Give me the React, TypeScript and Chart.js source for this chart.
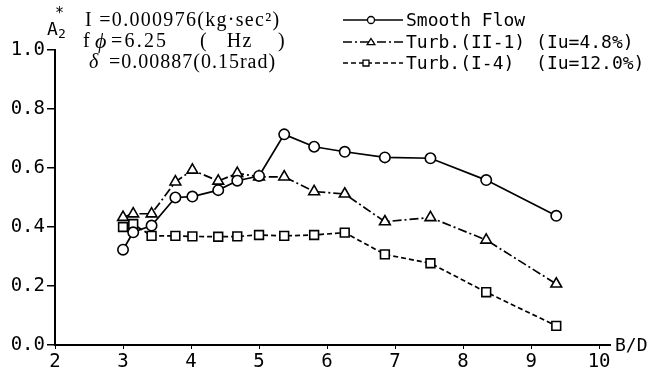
import React, { useEffect, useRef } from 'react';
import { Chart, registerables } from 'chart.js';

Chart.register(...registerables);

// B/D values (x) shared by all series
const bd = [3.0, 3.15, 3.42, 3.77, 4.02, 4.4, 4.68, 5.0, 5.37, 5.81, 6.26, 6.85, 7.52, 8.34, 9.37];
// A2* values
const smoothFlow = [0.323, 0.382, 0.405, 0.5, 0.503, 0.525, 0.557, 0.573, 0.714, 0.672, 0.655, 0.636, 0.633, 0.559, 0.438];
const turbII1 = [0.433, 0.445, 0.445, 0.553, 0.593, 0.556, 0.582, 0.57, 0.57, 0.52, 0.512, 0.418, 0.432, 0.356, 0.207];
const turbI4 = [0.4, 0.41, 0.37, 0.37, 0.368, 0.367, 0.368, 0.373, 0.37, 0.373, 0.381, 0.307, 0.277, 0.179, 0.065];

const seriesLabels = ['Smooth Flow', 'Turb.(II-1) (Iu=4.8%)', 'Turb.(I-4)  (Iu=12.0%)'];
const xTicks = [2, 3, 4, 5, 6, 7, 8, 9, 10];
const yTicks = [0.0, 0.2, 0.4, 0.6, 0.8, 1.0];
const annotationLine1 = 'I =0.000976(kg·sec²)';
const annotationLine2 = ['f', 'ϕ', '=6.25', '(   Hz    )'];
const annotationLine3 = ['δ', '=0.00887(0.15rad)'];
const xAxisTitle = 'B/D';

const MONO = "'DejaVu Sans Mono', monospace";
const SERIF = "'Liberation Serif', serif";

const styles = [
  { dash: [] as number[], marker: 'circle' },
  { dash: [9, 3, 2, 3], marker: 'triangle' },
  { dash: [5, 3], marker: 'rect' },
];

function drawMarker(ctx: CanvasRenderingContext2D, kind: string, x: number, y: number, r: number) {
  ctx.beginPath();
  if (kind === 'circle') {
    ctx.arc(x, y, r, 0, Math.PI * 2);
  } else if (kind === 'triangle') {
    ctx.moveTo(x, y - r);
    ctx.lineTo(x + r * 1.1, y + r * 0.75);
    ctx.lineTo(x - r * 1.1, y + r * 0.75);
    ctx.closePath();
  } else {
    ctx.rect(x - r * 0.85, y - r * 0.85, r * 1.7, r * 1.7);
  }
  ctx.fillStyle = '#fff';
  ctx.fill();
  ctx.setLineDash([]);
  ctx.lineWidth = 1.3;
  ctx.strokeStyle = '#000';
  ctx.stroke();
}

const decorPlugin = {
  id: 'decor',
  afterDraw(chart: any) {
    const ctx: CanvasRenderingContext2D = chart.ctx;
    const area = chart.chartArea;
    ctx.save();
    ctx.fillStyle = '#000';
    ctx.textBaseline = 'middle';

    // Y axis title A2*
    ctx.textAlign = 'left';
    ctx.font = `18px ${MONO}`;
    ctx.fillText('A', 47, 30);
    ctx.font = `13px ${MONO}`;
    ctx.fillText('2', 58, 35);
    ctx.font = `15px ${MONO}`;
    ctx.fillText('*', 55, 14);

    // Annotation text
    (ctx as any).letterSpacing = '1.3px';
    ctx.font = `20px ${SERIF}`;
    ctx.fillText(annotationLine1, 85, 21);
    ctx.fillText(annotationLine2[0], 83, 42);
    ctx.font = `italic 22px ${SERIF}`;
    ctx.fillText(annotationLine2[1], 95, 42);
    ctx.font = `20px ${SERIF}`;
    (ctx as any).letterSpacing = '2.2px';
    ctx.fillText(annotationLine2[2], 111, 42);
    (ctx as any).letterSpacing = '1.3px';
    ctx.fillText(annotationLine2[3], 200, 42);
    ctx.font = `italic 20px ${SERIF}`;
    ctx.fillText(annotationLine3[0], 89, 63);
    ctx.font = `20px ${SERIF}`;
    (ctx as any).letterSpacing = '1.0px';
    ctx.fillText(annotationLine3[1], 109, 63);
    (ctx as any).letterSpacing = '0px';

    // Legend
    const ly = [20, 42, 63];
    for (let i = 0; i < 3; i++) {
      ctx.beginPath();
      ctx.setLineDash(styles[i].dash);
      ctx.lineWidth = 1.5;
      ctx.strokeStyle = '#000';
      ctx.moveTo(343, ly[i]);
      ctx.lineTo(403, ly[i]);
      ctx.stroke();
      drawMarker(ctx, styles[i].marker, i === 2 ? 366 : 371, ly[i], 3.5);
      ctx.fillStyle = '#000';
      ctx.font = `18px ${MONO}`;
      ctx.textAlign = 'left';
      ctx.fillText(seriesLabels[i], 406, ly[i] + 1);
    }

    // X axis title
    ctx.font = `18px ${MONO}`;
    ctx.fillText(xAxisTitle, area.right + 5, area.bottom + 1);
    ctx.restore();
  },
};

export default function App() {
  const ref = useRef<HTMLCanvasElement>(null);

  useEffect(() => {
    document.body.style.margin = '0';
    const canvas = ref.current!;
    const mk = (vals: number[]) => bd.map((x, i) => ({ x, y: vals[i] }));
    const series = [smoothFlow, turbII1, turbI4];
    const chart = new Chart(canvas, {
      type: 'scatter',
      data: {
        datasets: series.map((vals, i) => ({
          label: seriesLabels[i],
          data: mk(vals),
          showLine: true,
          borderColor: '#000',
          borderWidth: 1.7,
          borderDash: styles[i].dash,
          pointStyle: styles[i].marker as any,
          pointRadius: i === 0 ? 5.2 : 6.2,
          pointBackgroundColor: '#fff',
          pointBorderColor: '#000',
          pointBorderWidth: 1.6,
        })),
      },
      options: {
        animation: false,
        responsive: false,
        events: [],
        layout: { padding: { top: 50, right: 43, left: 0, bottom: 0 } },
        plugins: { legend: { display: false }, tooltip: { enabled: false } },
        scales: {
          x: {
            type: 'linear',
            min: 2,
            max: 10.16,
            afterBuildTicks: (scale: any) => {
              scale.ticks = xTicks.map((v) => ({ value: v }));
            },
            afterFit: (scale: any) => {
              scale.height = 31;
            },
            grid: { drawOnChartArea: false, drawTicks: true, tickLength: 4, color: '#000', lineWidth: 1 },
            border: { display: true, color: '#000', width: 2 },
            ticks: {
              color: '#000',
              font: { family: MONO, size: 19 },
              padding: 2,
              maxRotation: 0,
              autoSkip: false,
              callback: (v: any) => String(v),
            },
          },
          y: {
            type: 'linear',
            min: 0,
            max: 1,
            afterBuildTicks: (scale: any) => {
              scale.ticks = yTicks.map((v) => ({ value: v }));
            },
            afterFit: (scale: any) => {
              scale.width = 55;
            },
            grid: { drawOnChartArea: false, drawTicks: true, tickLength: 8, color: '#000', lineWidth: 1.5 },
            border: { display: true, color: '#000', width: 2 },
            ticks: {
              color: '#000',
              font: { family: MONO, size: 19 },
              padding: 2,
              callback: (v: any) => Number(v).toFixed(1),
            },
          },
        },
      },
      plugins: [decorPlugin],
    });
    return () => chart.destroy();
  }, []);

  return (
    <div style={{ width: 653, height: 376, background: '#fff' }}>
      <canvas ref={ref} width={653} height={376} style={{ display: 'block' }} />
    </div>
  );
}
